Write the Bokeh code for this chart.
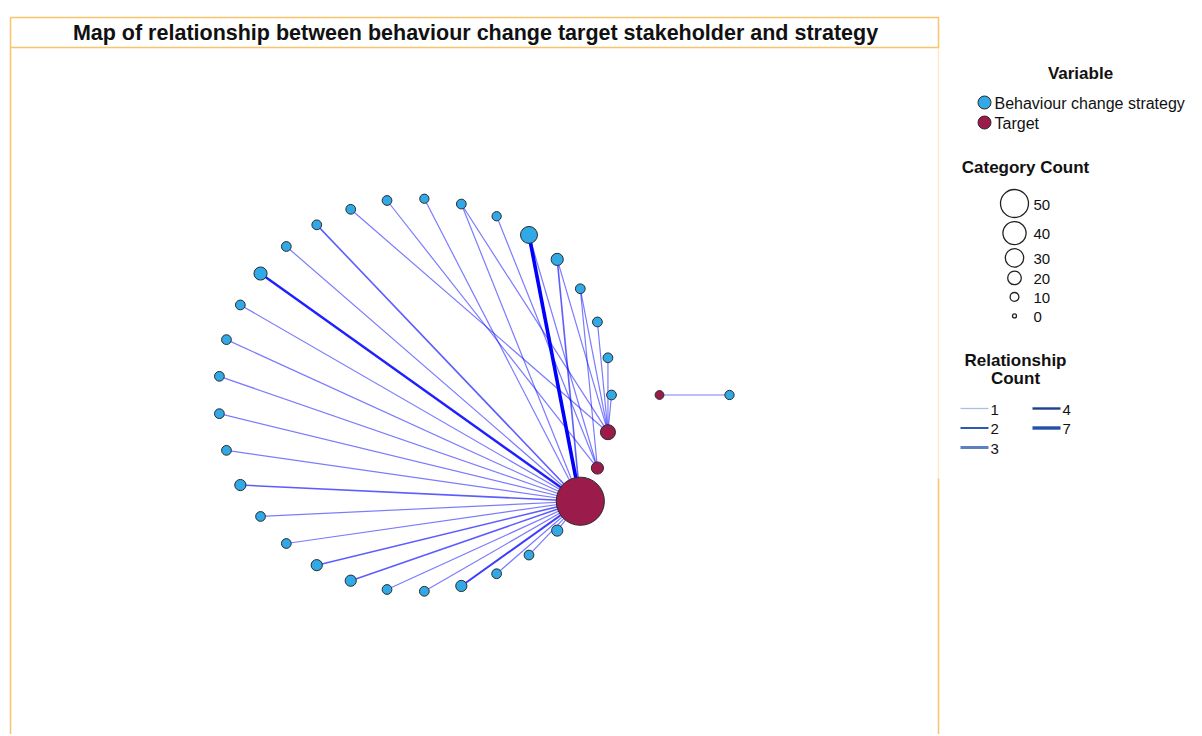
import math
from bokeh.plotting import figure
from bokeh.models import Range1d, ColumnDataSource
from bokeh.core.properties import value
from bokeh.embed import file_html
from bokeh.resources import INLINE

# ---------------- data ----------------
title_text = "Map of relationship between behaviour change target stakeholder and strategy"

# nodes of the circular component, counter-clockwise from 3 o'clock
ring_names = [f"S{i}" for i in range(1, 31)] + ["T1", "T2", "T3"]
ring_variables = ["Behaviour change strategy"] * 30 + ["Target"] * 3
ring_counts = [12, 12, 12, 12, 17, 27, 11, 12, 11, 12,
               12, 12, 12, 19, 12, 12, 12, 12, 12, 15,
               12, 12, 15, 15, 12, 12, 15, 12, 12, 15,
               92, 17, 23]

# isolated pair
pair_names = ["T4", "S31"]
pair_variables = ["Target", "Behaviour change strategy"]
pair_counts = [10, 11]

# relationships (strategy -> target, relationship count)
edge_from = ["S5", "S6", "S8", "S9", "S12", "S13", "S14", "S15", "S16", "S17",
             "S18", "S19", "S20", "S21", "S22", "S23", "S24", "S25", "S26", "S27",
             "S28", "S29", "S30",
             "S4", "S6", "S7", "S10",
             "S1", "S2", "S3", "S4", "S5", "S8", "S11",
             "S31"]
edge_to = ["T1"] * 23 + ["T2"] * 4 + ["T3"] * 7 + ["T4"]
edge_count = [2, 7, 1, 1, 2, 1, 4, 1, 1, 1,
              1, 1, 2, 1, 1, 2, 2, 1, 1, 3,
              1, 1, 1,
              1, 1, 1, 1,
              1, 1, 1, 1, 1, 1, 1,
              1]

variable_labels = ["Behaviour change strategy", "Target"]
size_legend_values = [50, 40, 30, 20, 10, 0]
rel_legend_values = [1, 2, 3, 4, 7]

# ---------------- styles / layout ----------------
W, H = 1200, 734
ORANGE = "#f8c46c"
COLORS = {"Behaviour change strategy": "#31a9e6", "Target": "#9b1b4b"}
OUTLINE = "#2b2b2b"
FONT = "Liberation Sans"
TXT = "#111111"


def node_px(count):
    return 4 + 0.48 * count


cx, cy, R = 414.5, 394.5, 196.5
pair_gap, pair_len = 48, 70

pos = {}
n = len(ring_names)
for i, name in enumerate(ring_names):
    a = 2 * math.pi * i / n
    pos[name] = (cx + R * math.cos(a), cy - R * math.sin(a))
for j, name in enumerate(pair_names):
    pos[name] = (cx + R + pair_gap + j * pair_len, cy)

p = figure(width=W, height=H, x_range=Range1d(0, W), y_range=Range1d(H, 0),
           output_backend="svg", toolbar_location=None, min_border=0)
p.axis.visible = False
p.grid.visible = False
p.outline_line_color = None
p.background_fill_color = "white"
p.border_fill_color = "white"

# frame
p.quad(left=[10], right=[938], top=[17], bottom=[47], fill_color="white",
       line_color=ORANGE, line_width=1.5)
p.segment(x0=[10, 938, 938], y0=[47, 47, 478], x1=[10, 938, 938], y1=[H, 478, H],
          line_color=ORANGE, line_width=1.5, line_alpha=[1, 0.35, 1])
p.text(x=[475], y=[32], text=[title_text], text_font=value(FONT),
       text_font_style="bold", text_font_size="21.5px", text_align="center",
       text_baseline="middle", text_color=TXT)

# edges
ex0, ey0, ex1, ey1, ew, ea = [], [], [], [], [], []
for a, b, c in zip(edge_from, edge_to, edge_count):
    x0, y0 = pos[a]
    x1, y1 = pos[b]
    ex0.append(x0); ey0.append(y0); ex1.append(x1); ey1.append(y1)
    ew.append(0.8 + 0.4 * c)
    ea.append(min(1.0, 0.4 + 0.12 * c))
p.segment(x0="x0", y0="y0", x1="x1", y1="y1", line_width="w", line_alpha="a",
          line_color="#0000ff",
          source=ColumnDataSource(dict(x0=ex0, y0=ey0, x1=ex1, y1=ey1, w=ew, a=ea)))

# nodes: strategies first, targets on top
all_names = ring_names + pair_names
all_vars = ring_variables + pair_variables
all_counts = ring_counts + pair_counts
for var in ["Behaviour change strategy", "Target"]:
    xs, ys, ss = [], [], []
    for nm, v, c in zip(all_names, all_vars, all_counts):
        if v == var:
            xs.append(pos[nm][0]); ys.append(pos[nm][1]); ss.append(node_px(c))
    p.scatter(xs, ys, size=ss, fill_color=COLORS[var], line_color=OUTLINE,
              line_width=1)

# ---------- legend: Variable ----------
p.text(x=[1080], y=[73], text=["Variable"], text_font=value(FONT),
       text_font_style="bold", text_font_size="17px", text_align="center",
       text_baseline="middle", text_color=TXT)
for k, lab in enumerate(variable_labels):
    yy = 102 + 20 * k
    p.scatter([984], [yy], size=13, fill_color=COLORS[lab], line_color=OUTLINE,
              line_width=1)
    p.text(x=[994], y=[yy + 1], text=[lab], text_font=value(FONT),
           text_font_size="16px", text_align="left", text_baseline="middle",
           text_color=TXT)

# ---------- legend: Category Count ----------
p.text(x=[1025], y=[167], text=["Category Count"], text_font=value(FONT),
       text_font_style="bold", text_font_size="17px", text_align="center",
       text_baseline="middle", text_color=TXT)
yy = 203
prev = None
for v in size_legend_values:
    d = node_px(v)
    if prev is not None:
        yy += max(19, prev / 2 + d / 2 + 4)
    p.scatter([1014], [yy], size=d, fill_color="white", line_color="#222222",
              line_width=1.3)
    p.text(x=[1033], y=[yy + 1], text=[str(v)], text_font=value(FONT),
           text_font_size="15px", text_align="left", text_baseline="middle",
           text_color=TXT)
    prev = d

# ---------- legend: Relationship Count ----------
p.text(x=[1015, 1015], y=[360, 378], text=["Relationship", "Count"],
       text_font=value(FONT), text_font_style="bold", text_font_size="17px",
       text_align="center", text_baseline="middle", text_color=TXT)
rel_styles = {1: ("#a9bfe3", 1.3), 2: ("#2a5cb3", 2.0), 3: ("#5d80c3", 3.0),
              4: ("#1e418f", 2.4), 7: ("#2251a8", 3.4)}
for k, v in enumerate(rel_legend_values):
    col, row = divmod(k, 3)
    x0 = 960 + col * 72
    y0 = 408 + row * 19.5
    colr, lw = rel_styles[v]
    p.segment(x0=[x0], y0=[y0], x1=[x0 + 28], y1=[y0], line_color=colr,
              line_width=lw)
    p.text(x=[x0 + 30], y=[y0 + 1], text=[str(v)], text_font=value(FONT),
           text_font_size="15px", text_align="left", text_baseline="middle",
           text_color=TXT)

open("out.html", "w").write(file_html(p, INLINE))
